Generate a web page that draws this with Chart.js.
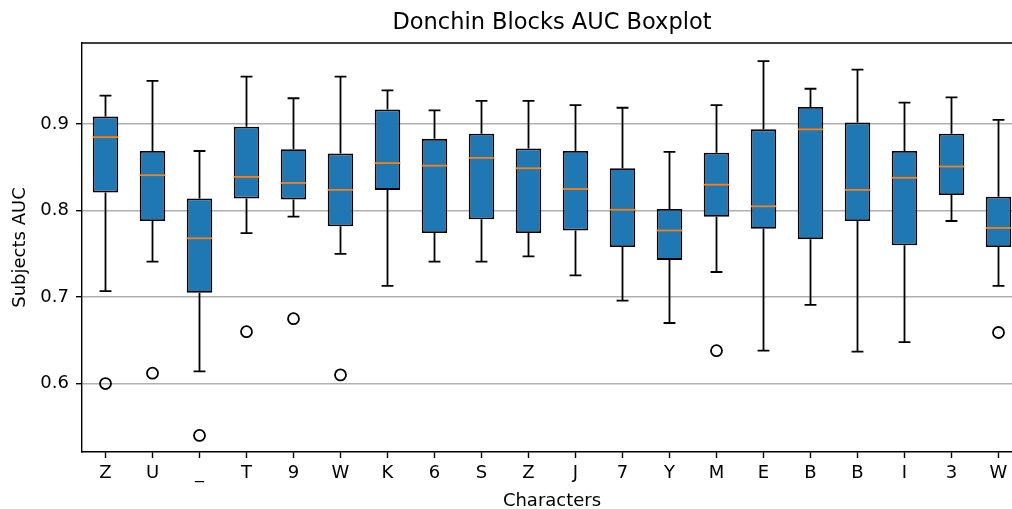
<!DOCTYPE html>
<html>
<head>
<meta charset="utf-8">
<script src="https://cdn.jsdelivr.net/npm/chart.js@4.4.1/dist/chart.umd.min.js"></script>
<style>
  html, body { margin: 0; padding: 0; overflow: hidden; background: #fff; }
  #wrap { width: 1040px; height: 512px; }
</style>
</head>
<body>
<div id="wrap"><canvas id="c" width="1040" height="512"></canvas></div>
<script>
// Per-character AUC distribution (five-number summary + outliers)
const categories  = ['Z','U','_','T','9','W','K','6','S','Z','J','7','Y','M','E','B','B','I','3','W'];
const whiskerLow  = [0.707, 0.741, 0.614, 0.774, 0.793, 0.750, 0.713, 0.741, 0.741, 0.747, 0.725, 0.696, 0.670, 0.729, 0.638, 0.691, 0.637, 0.648, 0.788, 0.713];
const q1          = [0.821, 0.788, 0.705, 0.814, 0.813, 0.782, 0.824, 0.774, 0.790, 0.774, 0.777, 0.758, 0.743, 0.793, 0.779, 0.767, 0.788, 0.760, 0.818, 0.758];
const median      = [0.885, 0.841, 0.768, 0.839, 0.832, 0.824, 0.855, 0.852, 0.861, 0.849, 0.825, 0.801, 0.777, 0.830, 0.805, 0.894, 0.824, 0.838, 0.851, 0.780];
const q3          = [0.909, 0.869, 0.814, 0.897, 0.871, 0.866, 0.917, 0.883, 0.889, 0.872, 0.869, 0.849, 0.802, 0.867, 0.894, 0.920, 0.902, 0.869, 0.889, 0.816];
const whiskerHigh = [0.933, 0.950, 0.869, 0.955, 0.930, 0.955, 0.939, 0.916, 0.927, 0.927, 0.922, 0.919, 0.868, 0.922, 0.973, 0.941, 0.963, 0.925, 0.931, 0.905];
const outliers    = [0.600, 0.612, 0.540, 0.660, 0.675, 0.610, null, null, null, null, null, null, null, 0.638, null, null, null, null, null, 0.659];

const FONT = 'DejaVu Sans';
const LW = 1.8;

// Whiskers, caps, medians and the top/right frame
const boxParts = {
  id: 'boxParts',
  afterDatasetsDraw(chart) {
    const { ctx, scales: { x, y }, chartArea } = chart;
    const meta = chart.getDatasetMeta(0);
    ctx.save();
    ctx.lineCap = 'butt';
    categories.forEach((c, i) => {
      const cx = x.getPixelForValue(i);
      const half = meta.data[i].width / 2;
      const capHalf = (half - LW / 2) / 2;
      const yh = y.getPixelForValue(whiskerHigh[i]);
      const yl = y.getPixelForValue(whiskerLow[i]);
      ctx.strokeStyle = '#000';
      ctx.lineWidth = LW;
      ctx.beginPath();
      ctx.moveTo(cx, y.getPixelForValue(q3[i]));
      ctx.lineTo(cx, yh);
      ctx.moveTo(cx, y.getPixelForValue(q1[i]));
      ctx.lineTo(cx, yl);
      ctx.moveTo(cx - capHalf, yh); ctx.lineTo(cx + capHalf, yh);
      ctx.moveTo(cx - capHalf, yl); ctx.lineTo(cx + capHalf, yl);
      ctx.stroke();
      const ym = y.getPixelForValue(median[i]);
      ctx.strokeStyle = '#ff7f0e';
      ctx.beginPath();
      ctx.moveTo(cx - half, ym); ctx.lineTo(cx + half, ym);
      ctx.stroke();
    });
    ctx.strokeStyle = '#000';
    ctx.lineWidth = 1.4;
    ctx.beginPath();
    ctx.moveTo(chartArea.left, chartArea.top);
    ctx.lineTo(chartArea.right, chartArea.top);
    ctx.lineTo(chartArea.right, chartArea.bottom);
    ctx.stroke();
    ctx.restore();
  }
};

new Chart(document.getElementById('c'), {
  type: 'bar',
  data: {
    labels: categories,
    datasets: [
      {
        type: 'bar',
        data: categories.map((_, i) => [q1[i], q3[i]]),
        backgroundColor: '#1f77b4',
        borderColor: '#000',
        borderWidth: LW,
        borderSkipped: false,
        barPercentage: 25.5 / 47,
        categoryPercentage: 1,
        grouped: false
      },
      {
        type: 'line',
        data: outliers,
        showLine: false,
        pointRadius: 5.5,
        pointStyle: 'circle',
        pointBackgroundColor: 'rgba(0,0,0,0)',
        pointBorderColor: '#000',
        pointBorderWidth: LW
      }
    ]
  },
  options: {
    responsive: false,
    animation: false,
    events: [],
    layout: { padding: { left: 0, right: 18, top: 0, bottom: 0 } },
    plugins: {
      legend: { display: false },
      tooltip: { enabled: false },
      title: {
        display: true,
        text: 'Donchin Blocks AUC Boxplot',
        fullSize: false,
        color: '#000',
        font: { family: FONT, size: 22.5, weight: 'normal' },
        padding: { top: 9.5, bottom: 6.5 }
      }
    },
    scales: {
      x: {
        offset: true,
        grid: { display: true, drawOnChartArea: false, offset: false, tickLength: 6, tickColor: '#000', tickWidth: 1.4 },
        border: { color: '#000', width: 1.4 },
        ticks: { color: '#000', font: { family: FONT, size: 18 }, padding: 5, maxRotation: 0, autoSkip: false },
        title: { display: true, text: 'Characters', color: '#000', font: { family: FONT, size: 18 }, padding: { top: 0, bottom: 0 } },
        afterFit(s) { s.height = 60; }
      },
      y: {
        min: 0.5208,
        max: 0.9939,
        grid: { color: '#b0b0b0', lineWidth: 1.4, tickLength: 6, tickColor: '#000', tickWidth: 1.4 },
        border: { color: '#000', width: 1.4 },
        ticks: {
          stepSize: 0.1,
          includeBounds: false,
          color: '#000',
          font: { family: FONT, size: 18 },
          padding: 7,
          callback: v => v.toFixed(1)
        },
        title: { display: true, text: 'Subjects AUC', color: '#000', font: { family: FONT, size: 18 }, padding: { top: 9.7, bottom: 0 } },
        afterFit(s) { s.width = 82; }
      }
    }
  },
  plugins: [boxParts]
});
</script>
</body>
</html>
